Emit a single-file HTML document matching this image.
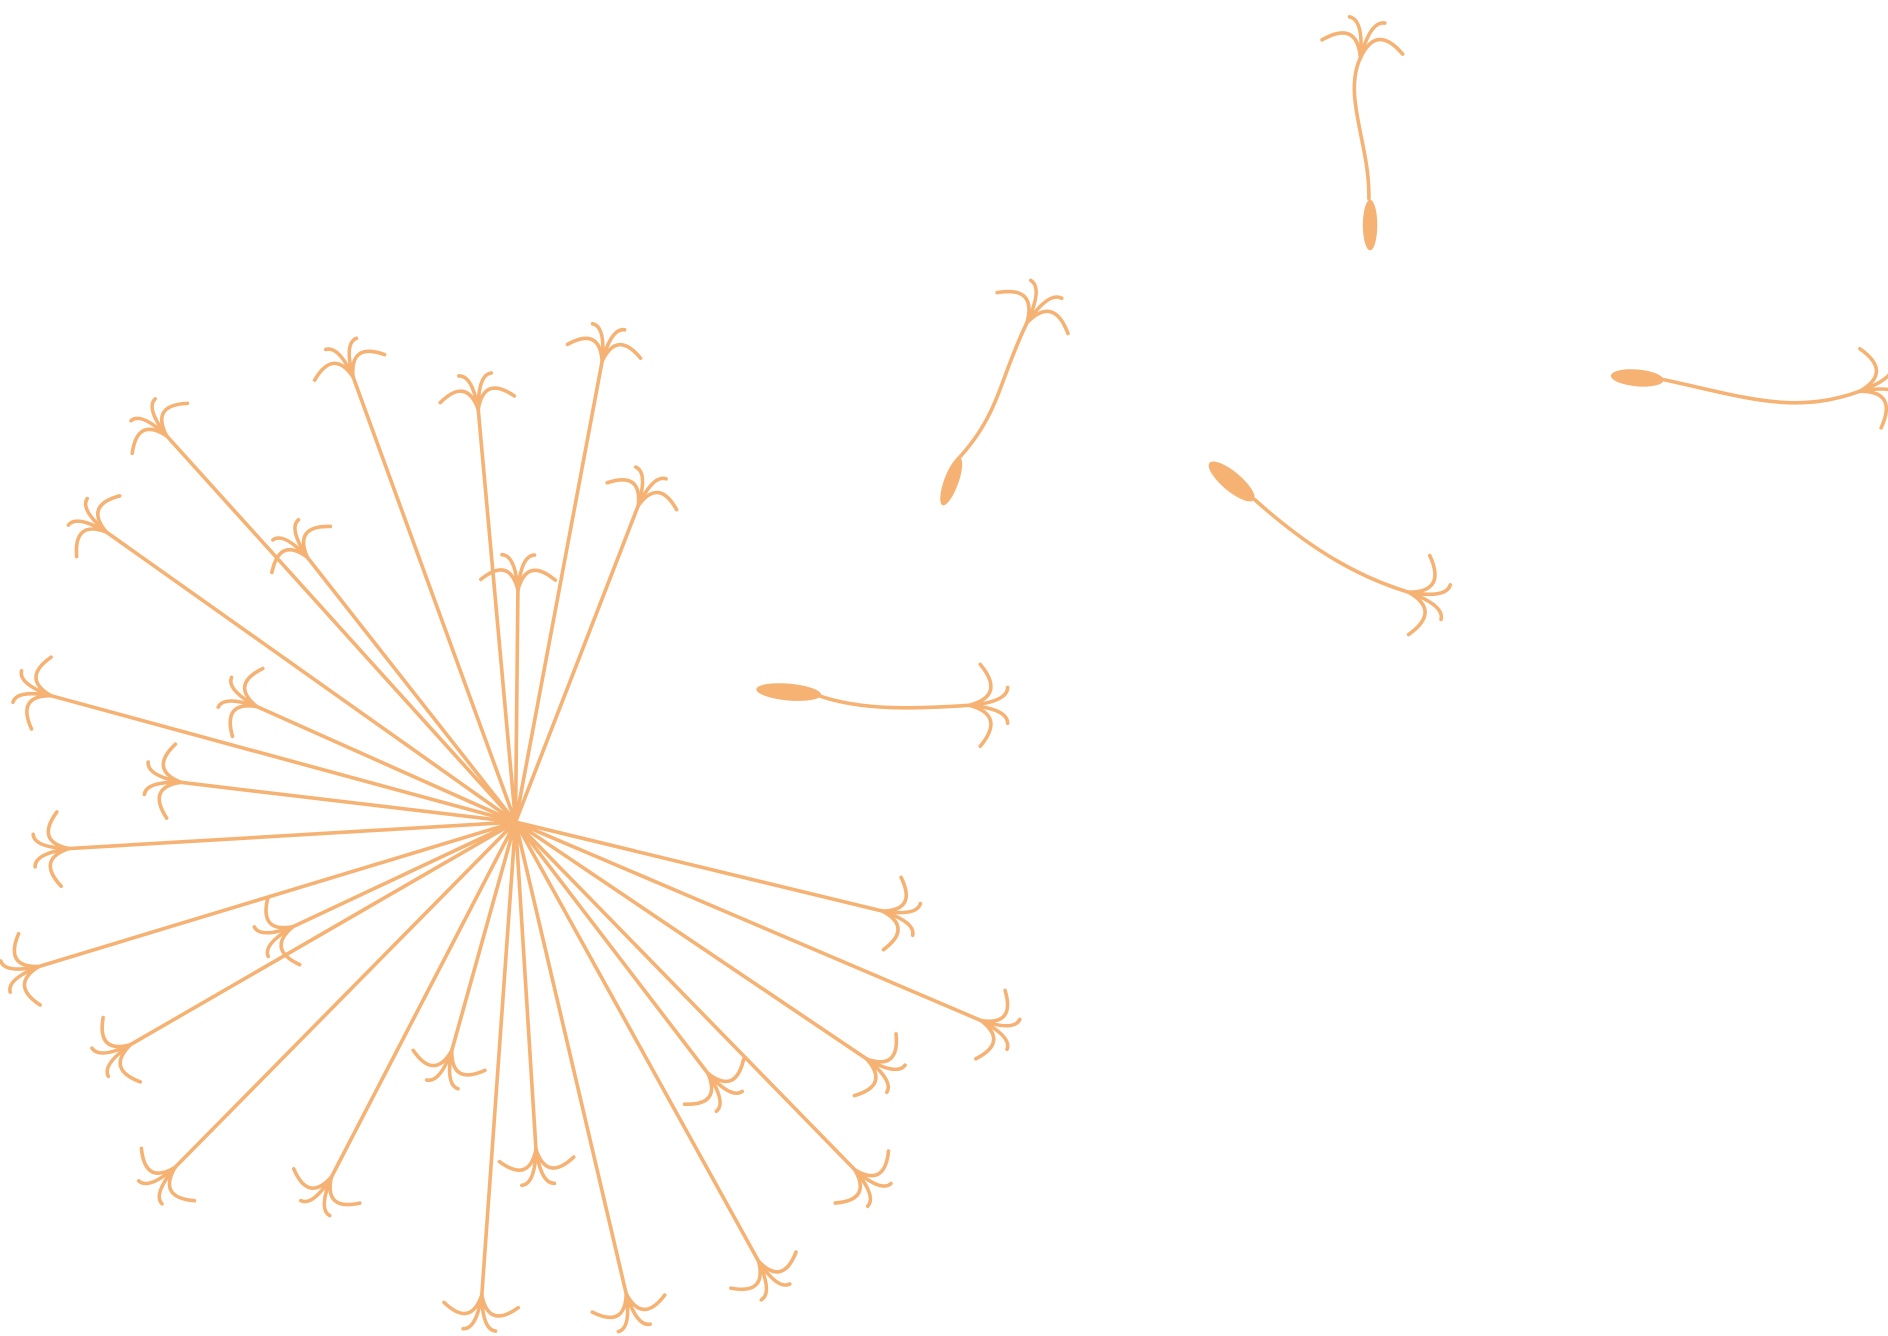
<!DOCTYPE html>
<html><head><meta charset="utf-8"><style>
html,body{margin:0;padding:0;background:#fff;width:1888px;height:1336px;overflow:hidden}
svg{display:block}
</style></head><body>
<svg id="art" width="1888" height="1336" viewBox="0 0 1568 1110" xmlns="http://www.w3.org/2000/svg">
<g id="head" fill="none" stroke="#f5b273" stroke-width="3" stroke-linecap="round"></g>
<g id="floating" fill="none" stroke="#f5b273" stroke-width="3" stroke-linecap="round">
  <path d="M1137,165 C1138,120 1115,80 1130,48"/>
  <ellipse cx="1138" cy="187" rx="6" ry="21" fill="#f5b273" stroke="none"/>
  <path d="M795,382 C830,345 830,315 853,268"/>
  <ellipse cx="790" cy="400" rx="6" ry="21" transform="rotate(20 790 400)" fill="#f5b273" stroke="none"/>
  <path d="M1042,415 C1090,458 1130,480 1170,492"/>
  <ellipse cx="1023" cy="400" rx="24" ry="8" transform="rotate(40 1023 400)" fill="#f5b273" stroke="none"/>
  <path d="M680,578 C720,592 770,588 805,586"/>
  <ellipse cx="655" cy="575" rx="27" ry="7" transform="rotate(5 655 575)" fill="#f5b273" stroke="none"/>
  <path d="M1380,315 C1450,330 1490,345 1545,325"/>
  <ellipse cx="1360" cy="314" rx="22" ry="7" transform="rotate(5 1360 314)" fill="#f5b273" stroke="none"/>
</g>
</svg>
<script>
const center = [428, 683];
const spokeEnds = [[293,313],[397,340],[500,300],[530,420],[430,490],[255,463],[138,362],[88,442],[42,578],[213,587],[150,650],[57,705],[32,803],[243,770],[108,868],[145,970],[275,978],[375,873],[445,955],[400,1076],[520,1075],[630,1048],[588,892],[710,972],[720,880],[815,848],[733,757]];
const floatTufts = [[1130,48,-80],[853,268,-60],[1170,492,15],[805,586,0],[1545,325,-15]];
const NS = "http://www.w3.org/2000/svg";
const head = document.getElementById('head');
const flo = document.getElementById('floating');
function tuft(g, x, y, angDeg, scale) {
  const offs = [-75, -25, 25, 75];
  offs.forEach((o) => {
    const L = 32 * scale;
    const a = (angDeg + o) * Math.PI / 180;
    const c = (angDeg + o * 0.2) * Math.PI / 180;
    const ex = x + Math.cos(a) * L, ey = y + Math.sin(a) * L;
    const cx = x + Math.cos(c) * L * 0.9, cy = y + Math.sin(c) * L * 0.9;
    const p = document.createElementNS(NS, 'path');
    p.setAttribute('d', `M${x},${y} Q${cx},${cy} ${ex},${ey}`);
    
    
    g.appendChild(p);
  });
}
spokeEnds.forEach(([x, y]) => {
  const l = document.createElementNS(NS, 'line');
  l.setAttribute('x1', center[0]); l.setAttribute('y1', center[1]);
  l.setAttribute('x2', x); l.setAttribute('y2', y);
  
  
  head.appendChild(l);
  const ang = Math.atan2(y - center[1], x - center[0]) * 180 / Math.PI;
  tuft(head, x, y, ang, 1);
});
floatTufts.forEach(([x, y, a]) => tuft(flo, x, y, a, 1.1));
</script>
</body></html>
